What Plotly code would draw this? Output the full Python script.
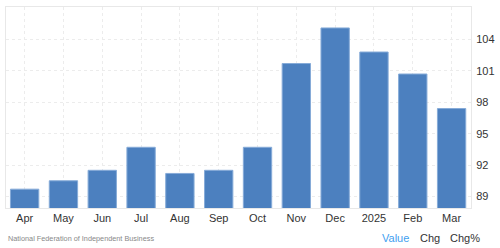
import plotly.graph_objects as go

categories = ["Apr", "May", "Jun", "Jul", "Aug", "Sep", "Oct", "Nov", "Dec", "2025", "Feb", "Mar"]
values = [89.7, 90.5, 91.5, 93.7, 91.2, 91.5, 93.7, 101.7, 105.1, 102.8, 100.7, 97.4]
y_ticks = [89, 92, 95, 98, 101, 104]
source = "National Federation of Independent Business"
footer_tabs = ["Value", "Chg", "Chg%"]

fig = go.Figure()
fig.add_trace(go.Bar(
    x=list(range(len(categories))), y=values,
    marker=dict(color="#4c80bf", line=dict(color="#86abd8", width=1)),
    width=0.73,
))

fig.update_layout(
    width=500, height=248,
    margin=dict(l=5, r=24, t=7, b=40),
    paper_bgcolor="white", plot_bgcolor="white",
    font=dict(family="Liberation Sans, Arial, sans-serif", size=11, color="#333"),
    showlegend=False,
    bargap=0.27,
)
fig.update_xaxes(
    range=[-0.48, 11.5],
    tickmode="array", tickvals=list(range(len(categories))), ticktext=categories,
    showgrid=True, gridcolor="#ececec", griddash="dot", gridwidth=1,
    showline=True, linecolor="#e8e8e8", mirror=True,
    ticks="", ticklabelstandoff=0,
    tickfont=dict(size=11, color="#333"),
    zeroline=False,
)
fig.update_yaxes(
    range=[87.9, 107.1], side="right",
    tickmode="array", tickvals=y_ticks,
    showgrid=True, gridcolor="#ececec", griddash="dot", gridwidth=1,
    showline=True, linecolor="#e8e8e8", mirror=True,
    ticks="", ticklabelstandoff=2,
    tickfont=dict(size=11, color="#333"),
    zeroline=False,
)

fig.add_annotation(text=source, xref="paper", yref="paper", x=-0.006, y=-0.15,
                   xanchor="left", yanchor="middle", showarrow=False,
                   font=dict(size=7.3, color="#888"), xshift=3, yshift=0)
fig.add_annotation(text=footer_tabs[0], xref="paper", yref="paper", x=0.804, y=-0.15,
                   xanchor="left", yanchor="middle", showarrow=False,
                   font=dict(size=11, color="#42a0f0"))
fig.add_annotation(text=footer_tabs[1], xref="paper", yref="paper", x=0.885, y=-0.15,
                   xanchor="left", yanchor="middle", showarrow=False,
                   font=dict(size=11, color="#333"))
fig.add_annotation(text=footer_tabs[2], xref="paper", yref="paper", x=0.951, y=-0.15,
                   xanchor="left", yanchor="middle", showarrow=False,
                   font=dict(size=11, color="#333"))

fig.write_html("out.html")
